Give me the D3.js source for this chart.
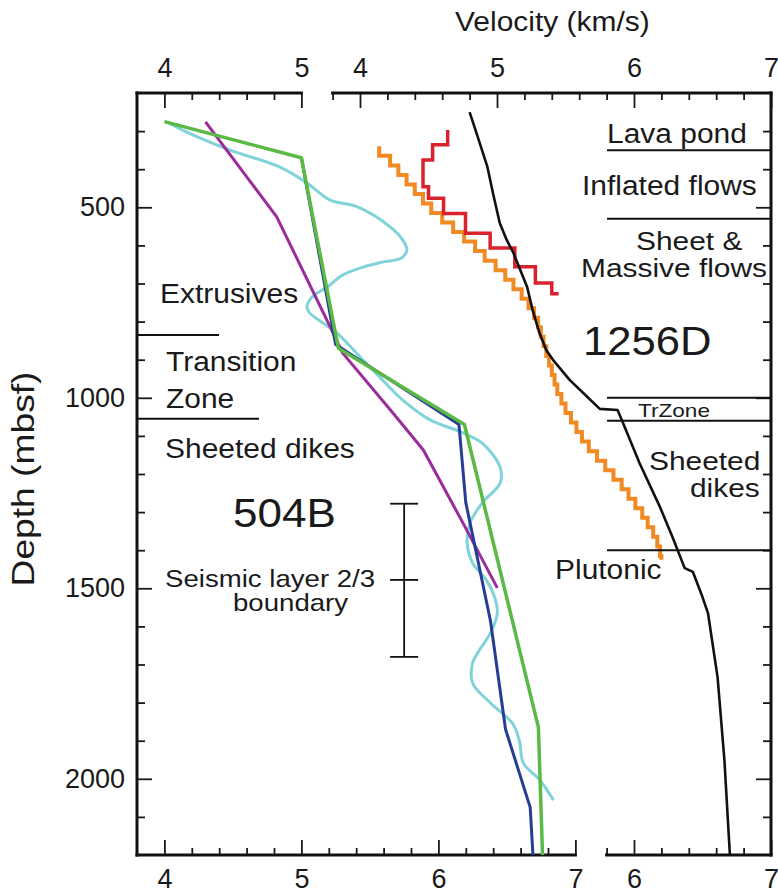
<!DOCTYPE html>
<html><head><meta charset="utf-8">
<script src="https://cdn.jsdelivr.net/npm/d3@7"></script>
<style>
body{margin:0;background:#fff}
svg{display:block}
text{font-family:"Liberation Sans",Arial,Helvetica,sans-serif;fill:#1a1a1a}
</style>
</head><body>
<svg id="chart" width="778" height="896"></svg>
<script>
// ---------------- DATA ----------------
// Hole 504B velocity profiles (velocity km/s, depth mbsf)
const green504Vel   = [4.00, 5.00, 5.27, 6.19, 6.73, 6.76];
const green504Depth = [275, 370, 870, 1070, 1865, 2200];

const blue504Vel    = [5.00, 5.25, 6.15, 6.20, 6.38, 6.49, 6.67, 6.69];
const blue504Depth  = [370, 860, 1070, 1275, 1585, 1870, 2075, 2200];

const purple504Vel   = [4.30, 4.82, 5.21, 5.30, 5.65, 5.89, 6.18, 6.43];
const purple504Depth = [276, 525, 814, 882, 1032, 1137, 1329, 1499];

const cyan504Vel = [4.02, 4.16, 4.48, 4.84, 5.04, 5.21, 5.41, 5.65, 5.74, 5.77, 5.73, 5.59, 5.45, 5.30, 5.19, 5.08, 5.04, 5.06, 5.16, 5.26, 5.45, 5.57, 5.74, 5.94, 6.18, 6.32, 6.45, 6.45, 6.32, 6.23, 6.21, 6.25, 6.35, 6.41, 6.43, 6.38, 6.30, 6.25, 6.25, 6.38, 6.54, 6.59, 6.62, 6.74, 6.84];
const cyan504Depth = [276, 302, 350, 394, 436, 481, 499, 552, 586, 612, 633, 644, 657, 678, 709, 735, 762, 777, 804, 830, 901, 945, 1006, 1058, 1092, 1119, 1182, 1224, 1276, 1329, 1381, 1434, 1478, 1523, 1565, 1617, 1662, 1696, 1749, 1801, 1854, 1898, 1959, 2003, 2056];

// Hole 1256D profiles
const black1256Vel   = [4.80, 4.86, 4.93, 4.97, 5.02, 5.07, 5.12, 5.22, 5.26, 5.31, 5.36, 5.41, 5.53, 5.66, 5.75, 5.88, 5.92, 6.04, 6.19, 6.28, 6.37, 6.43, 6.50, 6.54, 6.61, 6.66, 6.70];
const black1256Depth = [250, 316, 394, 462, 541, 585, 620, 709, 770, 830, 875, 901, 953, 998, 1029, 1032, 1066, 1171, 1287, 1365, 1447, 1457, 1523, 1565, 1733, 1951, 2200];

// step profile (interval tops, velocity in each interval)
const red1256Vel   = [4.64, 4.53, 4.46, 4.50, 4.61, 4.77, 4.95, 5.13, 5.28, 5.40, 5.45];
const red1256Depth = [297, 336, 376, 446, 476, 516, 568, 607, 656, 699, 727];

const orange1256Vel   = [4.14, 4.22, 4.28, 4.34, 4.40, 4.46, 4.52, 4.60, 4.68, 4.76, 4.84, 4.91, 4.99, 5.06, 5.12, 5.18, 5.23, 5.27, 5.30, 5.32, 5.34, 5.36, 5.38, 5.40, 5.42, 5.44, 5.47, 5.50, 5.54, 5.58, 5.62, 5.67, 5.73, 5.79, 5.85, 5.91, 5.96, 6.01, 6.06, 6.10, 6.14, 6.17, 6.19, 6.20];
const orange1256Depth = [340, 365, 390, 415, 440, 465, 490, 515, 540, 565, 590, 615, 640, 665, 690, 715, 740, 765, 790, 815, 840, 865, 890, 915, 940, 965, 990, 1015, 1040, 1065, 1090, 1115, 1140, 1165, 1190, 1215, 1240, 1265, 1290, 1315, 1340, 1365, 1390, 1415, 1425];

// unit boundaries
const leftBoundaries  = [835, 1055];
const rightBoundaries = [350, 530, 1000, 1060, 1400];
const errorBarVel = 5.75;
const errorBarDepth = [1278, 1478, 1680];

// ticks
const depthMajor = [500, 1000, 1500, 2000];
const depthMinor = [300, 400, 600, 700, 800, 900, 1100, 1200, 1300, 1400, 1600, 1700, 1800, 1900, 2100];
const topLeftMajor = [4, 5];
const topLeftMinor = [4.2, 4.4, 4.6, 4.8];
const topRightMajor = [4, 5, 6, 7];
const topRightMinor = [3.8, 4.2, 4.4, 4.6, 4.8, 5.2, 5.4, 5.6, 5.8, 6.2, 6.4, 6.6, 6.8];
const botLeftMajor = [4, 5, 6, 7];
const botLeftMinor = [4.2, 4.4, 4.6, 4.8, 5.2, 5.4, 5.6, 5.8, 6.2, 6.4, 6.6, 6.8];
const botRightMajor = [6, 7];
const botRightMinor = [5.8, 6.2, 6.4, 6.6, 6.8];

// ---------------- SCALES ----------------
const svg = d3.select('#chart');
const y = d3.scaleLinear().domain([200, 2200]).range([93, 855]);
const x504 = d3.scaleLinear().domain([3.8, 7]).range([137, 575.4]);
const x1256 = d3.scaleLinear().domain([3.8, 7]).range([332.6, 771]);

// ---------------- AXES ----------------
function styleAxis(g, withText) {
  g.select('.domain').remove();
  g.selectAll('.tick line').attr('stroke', '#1a1a1a').attr('stroke-width', 1.8);
  if (withText) g.selectAll('.tick text').style('font-size', '27px').attr('fill', '#1a1a1a');
  else g.selectAll('.tick text').remove();
}
function xAxis(gen, scale, maj, min, yPos, pad) {
  const a1 = svg.append('g').attr('transform', `translate(0,${yPos})`)
    .call(gen(scale).tickValues(min).tickSize(-7).tickFormat(''));
  styleAxis(a1, false);
  const a2 = svg.append('g').attr('transform', `translate(0,${yPos})`)
    .call(gen(scale).tickValues(maj).tickSize(-15).tickPadding(pad).tickFormat(d3.format('d')));
  styleAxis(a2, true);
}
xAxis(d3.axisTop, x504, topLeftMajor, topLeftMinor, y(200), 16);
xAxis(d3.axisTop, x1256, topRightMajor, topRightMinor, y(200), 16);
xAxis(d3.axisBottom, x504, botLeftMajor, botLeftMinor, y(2200), 14);
xAxis(d3.axisBottom, x1256, botRightMajor, botRightMinor, y(2200), 14);

// left depth axis
let ga = svg.append('g').attr('transform', `translate(${x504(3.8)},0)`)
  .call(d3.axisLeft(y).tickValues(depthMinor).tickSize(-8).tickFormat(''));
styleAxis(ga, false);
ga = svg.append('g').attr('transform', `translate(${x504(3.8)},0)`)
  .call(d3.axisLeft(y).tickValues(depthMajor).tickSize(-15).tickPadding(12).tickFormat(d3.format('d')));
styleAxis(ga, true);
// right depth axis
ga = svg.append('g').attr('transform', `translate(${x1256(7)},0)`)
  .call(d3.axisRight(y).tickValues(depthMinor).tickSize(-8).tickFormat(''));
styleAxis(ga, false);
ga = svg.append('g').attr('transform', `translate(${x1256(7)},0)`)
  .call(d3.axisRight(y).tickValues(depthMajor).tickSize(-15).tickFormat(''));
styleAxis(ga, false);

// frame segments
const frame = [
  [x504(3.8), y(200), x504(3.8), y(2200)],
  [x1256(7), y(200), x1256(7), y(2200)],
  [x504(3.8), y(200), x504(5), y(200)],
  [x1256(3.8), y(200), x1256(7), y(200)],
  [x504(3.8), y(2200), x504(7), y(2200)],
  [x1256(5.8), y(2200), x1256(7), y(2200)]
];
svg.append('g').selectAll('line').data(frame).join('line')
  .attr('x1', d => d[0]).attr('y1', d => d[1]).attr('x2', d => d[2]).attr('y2', d => d[3])
  .attr('stroke', '#111').attr('stroke-width', 3).attr('stroke-linecap', 'square');

// ---------------- LINES ----------------
function zip(v, d) { return v.map((val, i) => [val, d[i]]); }
function drawLine(xs, vel, dep, color, width, curve) {
  const gen = d3.line().x(p => xs(p[0])).y(p => y(p[1])).curve(curve || d3.curveLinear);
  svg.append('path').datum(zip(vel, dep)).attr('d', gen)
    .attr('fill', 'none').attr('stroke', color).attr('stroke-width', width)
    .attr('stroke-linejoin', 'round').attr('stroke-linecap', 'butt');
}
function stepPoints(vel, dep) {
  const pts = [];
  for (let i = 0; i < vel.length; i++) {
    pts.push([vel[i], dep[i]]);
    if (i + 1 < dep.length) pts.push([vel[i], dep[i + 1]]);
  }
  return pts;
}
function drawStep(xs, vel, dep, color, width) {
  const gen = d3.line().x(p => xs(p[0])).y(p => y(p[1]));
  svg.append('path').datum(stepPoints(vel, dep)).attr('d', gen)
    .attr('fill', 'none').attr('stroke', color).attr('stroke-width', width)
    .attr('stroke-linejoin', 'miter');
}

drawLine(x504, cyan504Vel, cyan504Depth, '#80d3d8', 3, d3.curveCatmullRom.alpha(0.5));
drawLine(x504, purple504Vel, purple504Depth, '#9b2c9a', 3);
drawLine(x504, blue504Vel, blue504Depth, '#263d93', 3);
drawLine(x504, green504Vel, green504Depth, '#5bb946', 3.5);

drawStep(x1256, orange1256Vel, orange1256Depth, '#f18a22', 4);
drawStep(x1256, red1256Vel, red1256Depth, '#d8232f', 3.5);
drawLine(x1256, black1256Vel, black1256Depth, '#111', 2.6);

// boundaries
svg.append('g').selectAll('line').data(leftBoundaries).join('line')
  .attr('x1', x504(3.8)).attr('x2', (d, i) => i === 0 ? 219 : 259)
  .attr('y1', d => y(d)).attr('y2', d => y(d)).attr('stroke', '#111').attr('stroke-width', 2);
svg.append('g').selectAll('line').data(rightBoundaries).join('line')
  .attr('x1', 607).attr('x2', x1256(7))
  .attr('y1', d => y(d)).attr('y2', d => y(d)).attr('stroke', '#111').attr('stroke-width', 2);

// error bar
const eb = svg.append('g').attr('stroke', '#111').attr('stroke-width', 1.8);
eb.append('line').attr('x1', x504(errorBarVel)).attr('x2', x504(errorBarVel))
  .attr('y1', y(errorBarDepth[0])).attr('y2', y(errorBarDepth[2]));
eb.selectAll('line.cap').data(errorBarDepth).join('line').attr('class', 'cap')
  .attr('x1', x504(errorBarVel) - 14).attr('x2', x504(errorBarVel) + 14)
  .attr('y1', d => y(d)).attr('y2', d => y(d));

// ---------------- TEXT ----------------
function label(txt, x, yy, size, sx, anchor) {
  svg.append('text').attr('transform', `translate(${x},${yy}) scale(${sx || 1.07},1)`)
    .attr('text-anchor', anchor || 'start').style('font-size', size + 'px').text(txt);
}
label('Velocity (km/s)', 455, 31, 28);
svg.append('text').attr('transform', 'translate(34,479) rotate(-90) scale(1.2,1)')
  .attr('text-anchor', 'middle').style('font-size', '31px').text('Depth (mbsf)');

label('Extrusives', 160, 303, 28);
label('Transition', 166, 371, 28);
label('Zone', 166, 408, 28);
label('Sheeted dikes', 165, 458, 28);
label('504B', 233, 527, 40, 1.1);
label('Seismic layer 2/3', 165, 587, 24, 1.15);
label('boundary', 233, 611, 24, 1.15);

label('Lava pond', 607, 143, 28);
label('Inflated flows', 582, 195, 28);
label('Sheet &', 636, 250, 26, 1.15);
label('Massive flows', 581, 277, 26, 1.15);
label('1256D', 583, 355, 40, 1.09);
label('TrZone', 638, 417, 19, 1.19);
label('Sheeted', 649, 470, 26, 1.15);
label('dikes', 690, 497, 26, 1.15);
label('Plutonic', 555, 579, 28);
</script>
</body></html>
